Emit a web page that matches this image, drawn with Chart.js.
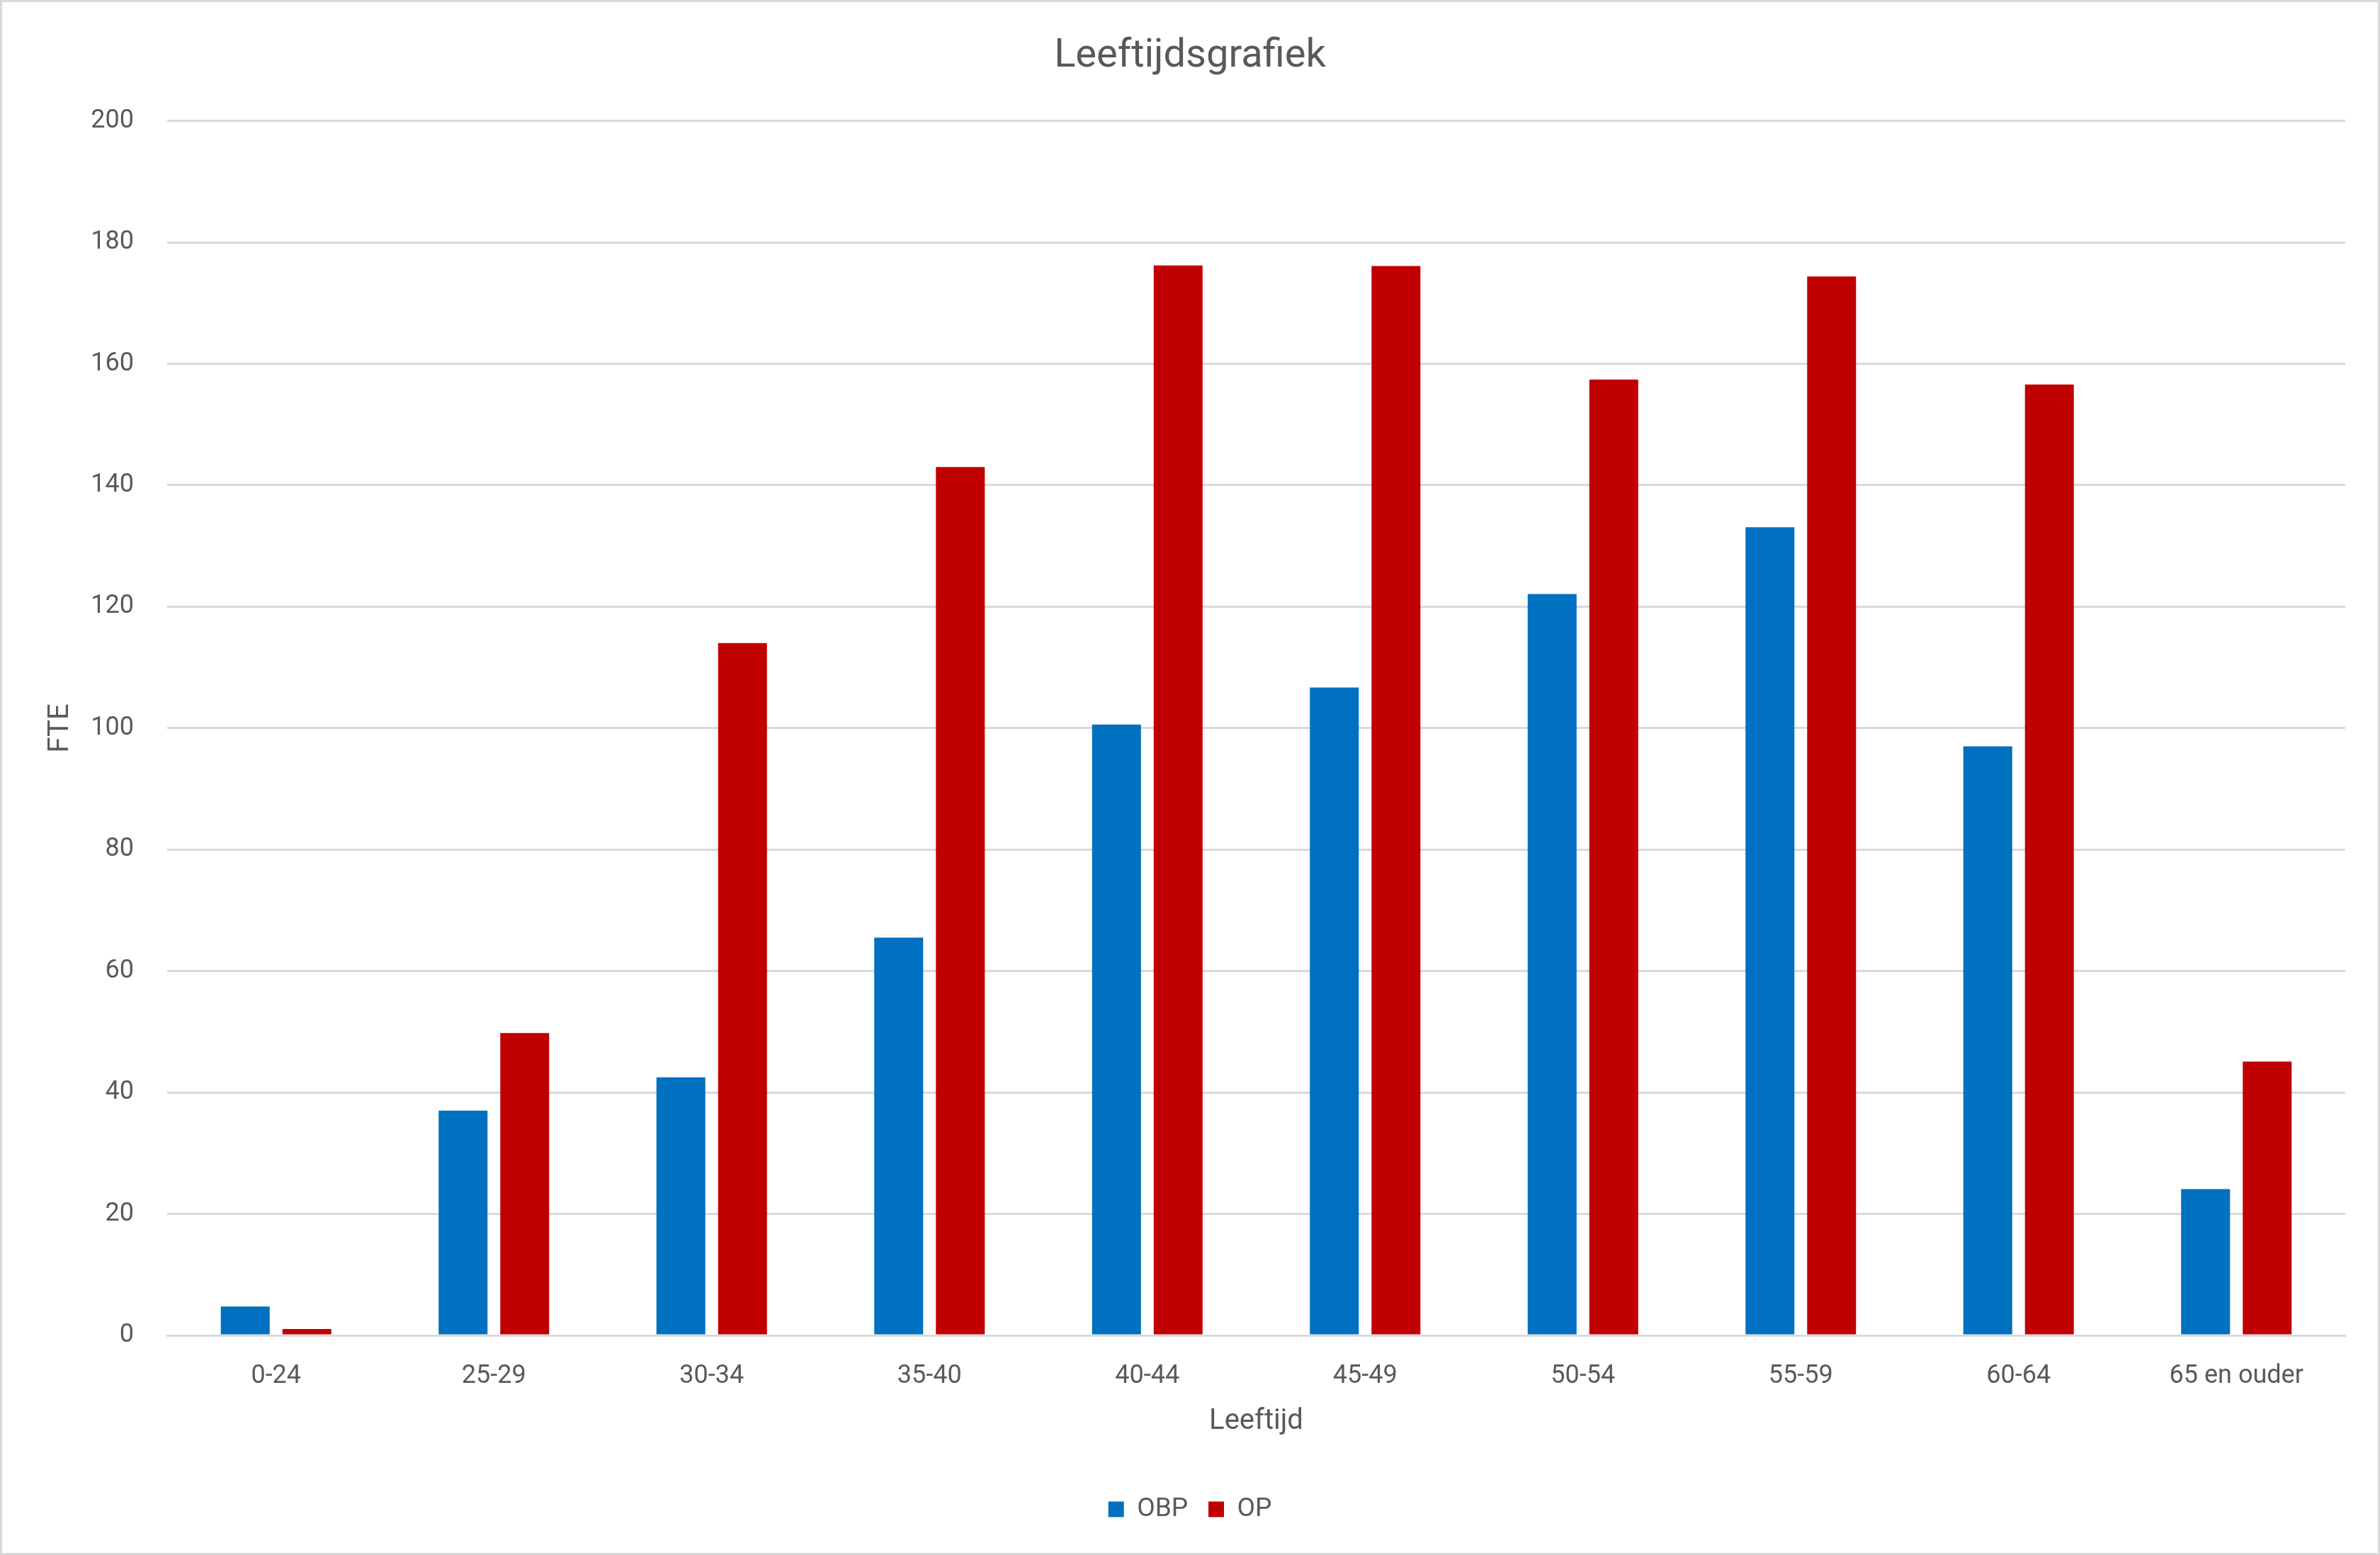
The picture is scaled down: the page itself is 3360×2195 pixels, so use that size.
<!DOCTYPE html>
<html>
<head>
<meta charset="utf-8">
<script src="https://cdn.jsdelivr.net/npm/chart.js@4/dist/chart.umd.min.js"></script>
<style>
  html, body { margin: 0; padding: 0; background: #ffffff; }
  #wrap { width: 3360px; height: 2195px; position: relative; }
  canvas { display: block; }
</style>
</head>
<body>
<div id="wrap"><canvas id="c" width="3360" height="2195"></canvas></div>
<script>
const categories = ["0-24", "25-29", "30-34", "35-40", "40-44", "45-49", "50-54", "55-59", "60-64", "65 en ouder"];
const obpValues = [4.75, 37, 42.5, 65.5, 100.6, 106.7, 122.1, 133.1, 97, 24.1];
const opValues = [1.05, 49.8, 114, 143, 176.2, 176.1, 157.4, 174.4, 156.6, 45.1];
const seriesNames = ["OBP", "OP"];
const chartTitle = "Leeftijdsgrafiek";
const xTitle = "Leeftijd";
const yTitle = "FTE";

const TEXT = "#595959";
const GRID = "#d9d9d9";
const FONT = "Roboto";

const borderPlugin = {
  id: "outerBorder",
  afterDraw(chart) {
    const ctx = chart.ctx;
    ctx.save();
    ctx.strokeStyle = GRID;
    ctx.lineWidth = 3;
    ctx.strokeRect(1.5, 1.5, chart.width - 3, chart.height - 3);
    ctx.restore();
  }
};

new Chart(document.getElementById("c"), {
  type: "bar",
  data: {
    labels: categories,
    datasets: [
      { label: seriesNames[0], data: obpValues, backgroundColor: "#0070C0", borderWidth: 0,
        categoryPercentage: 0.566, barPercentage: 0.793 },
      { label: seriesNames[1], data: opValues, backgroundColor: "#C00000", borderWidth: 0,
        categoryPercentage: 0.566, barPercentage: 0.793 }
    ]
  },
  options: {
    responsive: false,
    devicePixelRatio: 1,
    animation: false,
    layout: { padding: { left: 49, right: 49, top: 0, bottom: 36 } },
    plugins: {
      title: {
        display: true,
        text: chartTitle,
        color: TEXT,
        font: { family: FONT, size: 56, weight: "normal" },
        padding: { top: 46, bottom: 57.5 }
      },
      legend: {
        display: true,
        position: "bottom",
        labels: {
          color: TEXT,
          font: { family: FONT, size: 37 },
          boxWidth: 22,
          boxHeight: 22,
          padding: 29
        }
      },
      tooltip: { enabled: false }
    },
    scales: {
      x: {
        grid: { display: false, drawTicks: false },
        border: { display: true, color: GRID, width: 3 },
        ticks: {
          color: TEXT,
          font: { family: FONT, size: 36 },
          padding: 36,
          maxRotation: 0,
          autoSkip: false
        },
        title: {
          display: true,
          text: xTitle,
          color: TEXT,
          font: { family: FONT, size: 40 },
          padding: { top: 0, bottom: 52 }
        },
        afterFit(scale) { scale.height = 198; }
      },
      y: {
        min: 0,
        max: 200,
        grid: { color: GRID, lineWidth: 3, drawTicks: false },
        border: { display: false },
        ticks: {
          stepSize: 20,
          color: TEXT,
          font: { family: FONT, size: 36 },
          padding: 47
        },
        title: {
          display: true,
          text: yTitle,
          color: TEXT,
          font: { family: FONT, size: 40 },
          padding: { top: 13, bottom: 0 }
        },
        afterFit(scale) { scale.width = 187; }
      }
    }
  },
  plugins: [borderPlugin]
});
</script>
</body>
</html>
